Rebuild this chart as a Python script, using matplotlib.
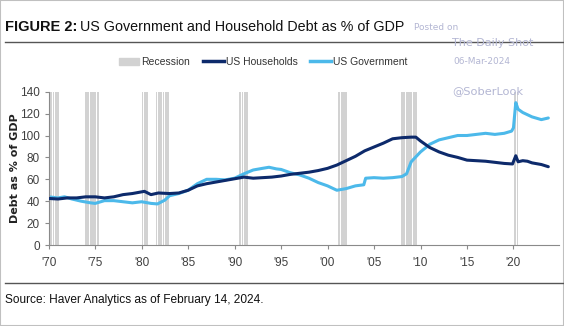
import numpy as np
import matplotlib
matplotlib.use("Agg")
import matplotlib.pyplot as plt
from matplotlib.patches import Rectangle, Patch
from matplotlib.lines import Line2D

plt.rcParams["font.family"] = ["Liberation Sans Narrow", "Liberation Sans", "DejaVu Sans"]

# --- data (% of GDP) ---
hh_years = [1970.0, 1971.0, 1972.0, 1973.0, 1974.0, 1975.0, 1976.0, 1977.0, 1978.0, 1979.0,
            1980.3, 1981.0, 1981.8, 1983.0, 1984.0, 1985.0, 1986.0, 1987.0, 1988.0, 1989.0,
            1990.0, 1991.0, 1992.0, 1993.0, 1994.0, 1995.0, 1996.0, 1997.0, 1998.0, 1999.0,
            2000.0, 2001.0, 2002.0, 2003.0, 2004.0, 2005.0, 2006.0, 2007.0, 2008.0, 2009.0,
            2009.5, 2010.0, 2011.0, 2012.0, 2013.0, 2014.0, 2015.0, 2016.0, 2017.0, 2018.0,
            2019.0, 2019.9, 2020.25, 2020.5, 2021.0, 2021.5, 2022.0, 2023.0, 2023.75]
households = [42.5, 42, 43, 43, 44, 44, 43, 44, 46, 47,
              49, 46, 47.5, 47, 47.5, 50, 54, 56, 57.5, 59,
              60.5, 62, 61, 61.5, 62, 63, 64.5, 65.5, 66.5, 68,
              70, 73, 77, 81, 86, 89.5, 93, 97, 98, 98.5,
              98.5, 95, 89, 85, 82, 80, 77.5, 77, 76.5, 75.5,
              74.5, 74, 81.5, 76, 77, 76.5, 75, 73.5, 71.5]

gov_years = [1970.0, 1971.0, 1971.7, 1972.5, 1973.5, 1974.5, 1975.0, 1976.0, 1977.0, 1978.0,
             1979.0, 1980.0, 1981.0, 1981.7, 1982.5, 1983.0, 1984.0, 1985.0, 1986.0, 1987.0,
             1988.0, 1989.0, 1990.0, 1991.0, 1992.0, 1993.0, 1993.7, 1994.5, 1995.0, 1996.0,
             1997.0, 1998.0, 1999.0, 2000.0, 2001.0, 2002.0, 2003.0, 2003.9, 2004.1, 2005.0,
             2006.0, 2007.0, 2008.0, 2008.5, 2009.0, 2010.0, 2011.0, 2012.0, 2013.0, 2014.0,
             2015.0, 2016.0, 2017.0, 2018.0, 2019.0, 2019.8, 2020.0, 2020.25, 2020.5, 2021.0,
             2022.0, 2023.0, 2023.75]
government = [44, 43, 44, 42, 40, 38.5, 38, 40.5, 40.5, 39.5,
              38.5, 39.5, 38, 37.5, 41, 45, 47, 50, 56, 60,
              60, 59.5, 61, 65, 68.5, 70, 71, 69.5, 69, 66,
              64, 61, 57, 54, 50, 51.5, 54, 55, 61, 61.5,
              61, 61.5, 62.5, 65, 76, 85, 92, 96, 98, 100,
              100, 101, 102, 101, 102, 104, 107, 130, 124, 121,
              117, 114.5, 116]

# NBER recessions (start, end) as decimal years
recessions = [(1969.92, 1970.92), (1973.92, 1975.25), (1980.0, 1980.58), (1981.5, 1982.92),
              (1990.5, 1991.25), (2001.17, 2001.92), (2007.92, 2009.5), (2020.08, 2020.33)]

xticks = [1970, 1975, 1980, 1985, 1990, 1995, 2000, 2005, 2010, 2015, 2020]
xticklabels = ["'70", "'75", "'80", "'85", "'90", "'95", "'00", "'05", "'10", "'15", "'20"]

NAVY = "#0d2a6b"
SKY = "#4cb9ea"
REC = "#d2d2d2"
WM = "#b3b6d3"

W, H = 564, 326
fig = plt.figure(figsize=(W / 100, H / 100), dpi=100)
ax = fig.add_axes([48.7 / W, 1 - 245 / H, (559 - 48.7) / W, (245 - 91.7) / H])

# recession shading: quarterly bars like the original
for start, end in recessions:
    q = np.arange(start, end + 0.01, 0.25)
    ax.bar(q, 140, width=0.19, align="edge", color=REC, lw=0, zorder=1)

ax.plot(hh_years, households, color=NAVY, lw=2.2, zorder=3, solid_capstyle="round")
ax.plot(gov_years, government, color=SKY, lw=2.2, zorder=2, solid_capstyle="round")

ax.set_xlim(1970, 2024.9)
ax.set_ylim(0, 140)
ax.set_yticks(range(0, 141, 20))
ax.set_xticks(xticks)
ax.set_xticklabels(xticklabels)
for s in ["top", "right"]:
    ax.spines[s].set_visible(False)
for s in ["left", "bottom"]:
    ax.spines[s].set_color("#8a8a8a")
    ax.spines[s].set_linewidth(0.8)
ax.tick_params(axis="both", colors="#8a8a8a", labelcolor="#404040", labelsize=8.5,
               length=3, width=0.8)
ax.tick_params(axis="x", pad=6)
ax.set_ylabel("Debt as % of GDP", fontsize=8, fontweight="bold", color="#222222",
              family=["DejaVu Sans"], labelpad=0)

# legend
handles = [Patch(color=REC), Line2D([], [], color=NAVY, lw=2.5), Line2D([], [], color=SKY, lw=2.5)]
fig.legend(handles, ["Recession", "US Households", "US Government"], loc="center",
           bbox_to_anchor=(263 / W, 1 - 62 / H), ncol=3, frameon=False, fontsize=7.5,
           handlelength=2.0, handletextpad=0.2, columnspacing=1.2, labelcolor="#333333")

# header / footer
fig.text(414 / W, 1 - 27 / H, "Posted on", fontsize=6.5, color=WM, va="center",
         family=["DejaVu Sans"], zorder=1)
t1 = fig.text(5 / W, 1 - 27 / H, "FIGURE 2:", fontsize=10.5, fontweight="bold", va="center",
              color="#111111", family=["Liberation Sans"], zorder=5)
fig.canvas.draw()
bb = t1.get_window_extent()
fig.text((bb.x1 + 3) / W, 1 - 27 / H, "US Government and Household Debt as % of GDP",
         fontsize=10.3, va="center", color="#111111", family=["Liberation Sans"], zorder=5)
fig.add_artist(Line2D([5 / W, 1], [1 - 42 / H] * 2, color="#555555", lw=1))
fig.add_artist(Line2D([5 / W, 1], [1 - 283 / H] * 2, color="#555555", lw=1))
fig.text(5 / W, 1 - 300 / H, "Source: Haver Analytics as of February 14, 2024.",
         fontsize=8.6, va="center", color="#111111", family=["Liberation Sans"])

fig.text(452 / W, 1 - 43 / H, "The Daily Shot", fontsize=8, color=WM, va="center",
         family=["DejaVu Sans"])
fig.text(453 / W, 1 - 62 / H, "06-Mar-2024", fontsize=6.5, color=WM, va="center",
         family=["DejaVu Sans"])
fig.text(452 / W, 1 - 91 / H, "@SoberLook", fontsize=8.2, color=WM, va="center",
         family=["DejaVu Sans"])

fig.add_artist(Rectangle((0, 0), 1, 1, transform=fig.transFigure, fill=False,
                         ec="#c0c0c0", lw=1.5))

fig.savefig("out.png", dpi=100)
